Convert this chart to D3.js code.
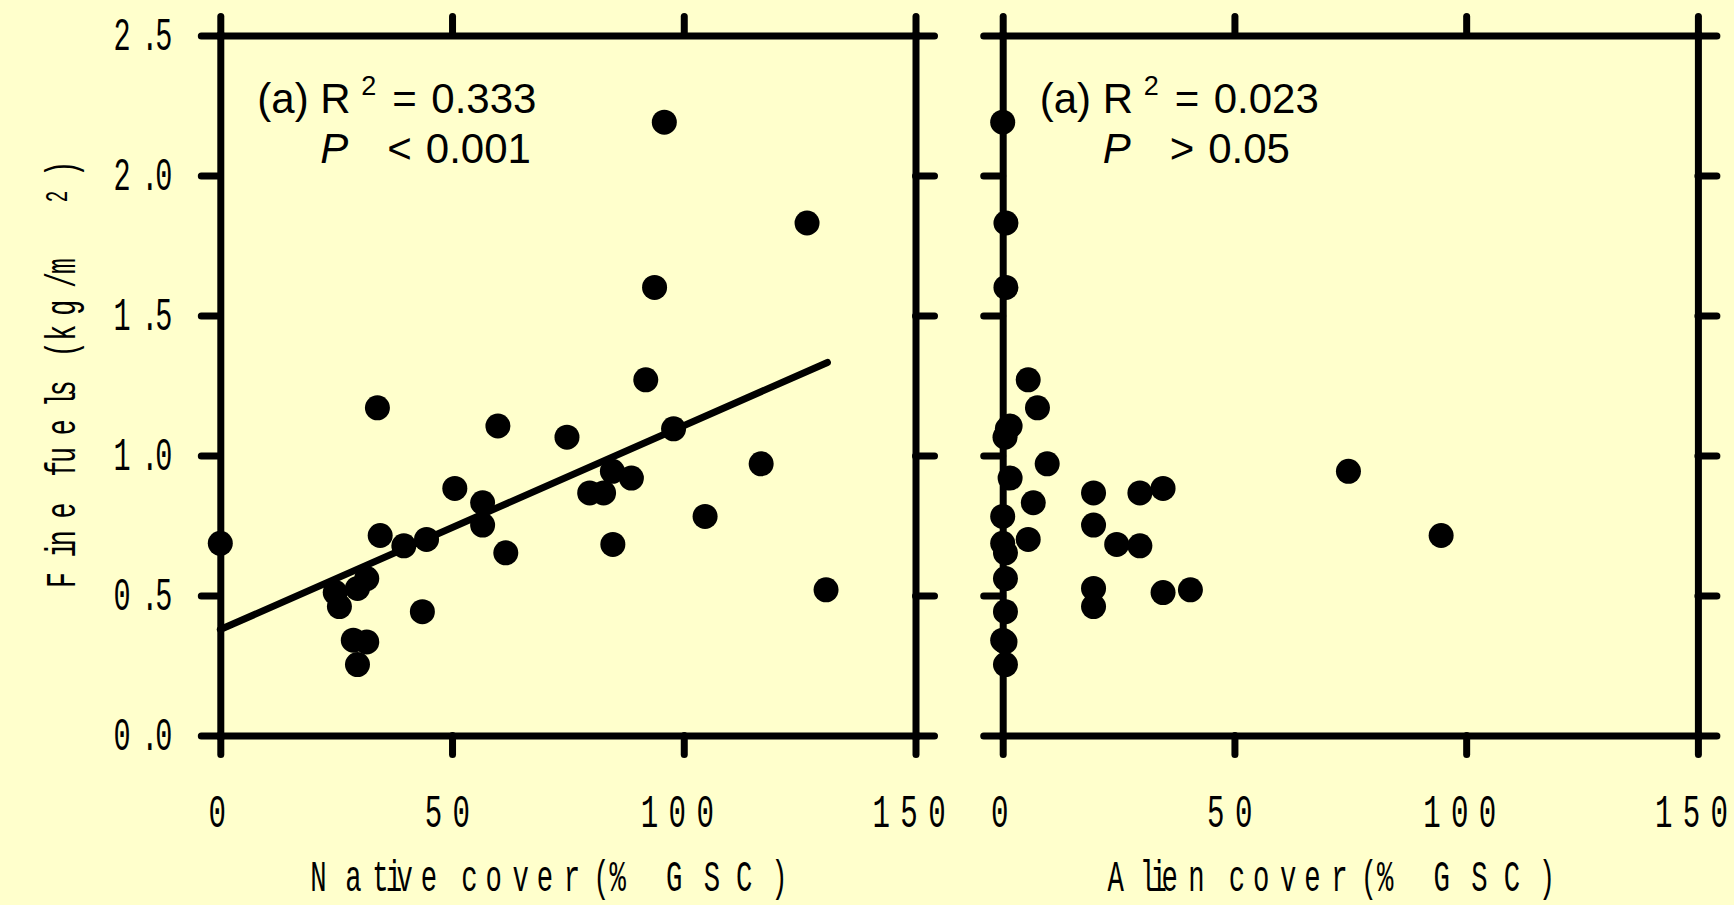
<!DOCTYPE html>
<html><head><meta charset="utf-8">
<script src="https://cdn.jsdelivr.net/npm/d3@7"></script>
<style>html,body{margin:0;padding:0;background:#ffffcc;}svg{display:block}</style>
</head><body>
<svg id="chart" width="1734" height="905"></svg>
<script>
// ---- data ----
const fineFuels   = [2.19, 1.83, 1.60, 1.27, 1.17, 1.105, 1.095, 1.065, 0.97, 0.943, 0.919, 0.882, 0.866, 0.866, 0.831, 0.782, 0.751, 0.714, 0.70, 0.686, 0.682, 0.677, 0.652, 0.56, 0.525, 0.52, 0.51, 0.46, 0.442, 0.34, 0.334, 0.253];
const nativeCover = [95.8, 126.6, 93.7, 91.8, 33.9, 59.9, 97.8, 74.8, 116.7, 84.6, 88.7, 50.6, 79.7, 82.7, 56.6, 104.6, 56.6, 34.5, 44.5, 0, 84.7, 39.6, 61.6, 31.6, 29.6, 130.7, 24.8, 25.7, 43.6, 28.7, 31.6, 29.6];
const alienCover  = [0, 0.7, 0.7, 5.5, 7.5, 1.6, 1.0, 0.5, 9.6, 74.6, 1.6, 34.6, 19.6, 29.6, 6.6, 0, 19.6, 94.6, 5.5, 0, 24.6, 29.6, 0.6, 0.6, 19.6, 40.5, 34.6, 19.6, 0.6, 0, 0.5, 0.6];
const xTickValues = [0, 50, 100, 150];
const yTickValues = [0, 0.5, 1.0, 1.5, 2.0, 2.5];
const xTickLabels = ["0", "50", "100", "150"];
const yTickLabels = ["0.0", "0.5", "1.0", "1.5", "2.0", "2.5"];
const fitX = [0, 131];
const fitY = [0.378, 1.332];
const xTitles = ["Native cover (% GSC)", "Alien cover (% GSC)"];
const yTitle = "Fine fuels (kg/m2)";
const r2Values = ["0.333", "0.023"];
const pSigns = ["<", ">"];
const pValues = ["0.001", "0.05"];

// ---- layout ----
const svg = d3.select("#chart");
const TOP = 35.4, BOTTOM = 735.4, PW = 695.2;
const panelLefts = [220.3, 1002.7];
const y = d3.scaleLinear().domain([0, 2.5]).range([BOTTOM, TOP]);

// advance widths (Helvetica metrics, em units) used to place the narrow glyphs
const HW = {'0':.556,'1':.556,'2':.556,'3':.556,'4':.556,'5':.556,'6':.556,'7':.556,'8':.556,'9':.556,
  '.':.278,' ':.278,'(':.333,')':.333,'%':.889,'/':.278,'A':.667,'C':.722,'F':.611,'G':.778,'N':.722,'S':.667,
  a:.556,c:.5,e:.556,f:.278,g:.556,i:.222,k:.5,l:.222,m:.833,n:.556,o:.556,r:.333,s:.5,t:.278,u:.556,v:.5};
const FONT = "Liberation Mono";
function spanOf(str){ let s=0; for(let i=0;i<str.length-1;i++) s+=HW[str[i]]; return s; }
function glyphRun(parent, str, o){
  const sx = o.sx || 0.62;
  const t = parent.append("text")
    .attr("transform", `translate(${o.x},${o.y}) rotate(${o.rotate||0}) scale(${sx},1)`)
    .attr("font-family", FONT).attr("font-size", o.size).attr("text-anchor", "middle")
    .attr("fill", "#000").style("white-space", "pre");
  let cum = 0;
  for (let i = 0; i < str.length; i++) {
    const c = str[i];
    const sp = o.special && o.special(i, c);
    if (sp && sp.extra) cum += sp.extra;
    const ts = t.append("tspan").attr("x", cum * o.em / sx).attr("y", sp && sp.dy ? sp.dy : 0).text(c);
    if (sp && sp.size) ts.attr("font-size", sp.size);
    cum += HW[c];
  }
  return t;
}

panelLefts.forEach((left, p) => {
  const x = d3.scaleLinear().domain([0, 150]).range([left, left + PW]);
  const xs = p === 0 ? nativeCover : alienCover;
  const g = svg.append("g");

  // frame with outward ticks on all four sides
  const axes = [
    [d3.axisBottom(x).tickValues(xTickValues), `translate(0,${BOTTOM})`],
    [d3.axisTop(x).tickValues(xTickValues), `translate(0,${TOP})`],
    [d3.axisLeft(y).tickValues(yTickValues), `translate(${left},0)`],
    [d3.axisRight(y).tickValues(yTickValues), `translate(${left + PW},0)`]
  ];
  axes.forEach(([ax, tr]) => {
    const a = g.append("g").attr("transform", tr)
      .call(ax.tickSize(19).tickSizeOuter(0).tickFormat(""));
    a.selectAll("text").remove();
    a.select(".domain").attr("stroke", "#000").attr("stroke-width", 7).attr("stroke-linecap", "square");
    a.selectAll(".tick line").attr("stroke", "#000").attr("stroke-width", 7).attr("stroke-linecap", "round");
  });

  // regression line (left panel only)
  if (p === 0) {
    g.append("path")
      .attr("d", d3.line().x(d => x(d[0])).y(d => y(d[1]))(d3.zip(fitX, fitY)))
      .attr("stroke", "#000").attr("stroke-width", 7).attr("stroke-linecap", "round").attr("fill", "none");
  }

  // points
  g.selectAll("circle.pt").data(d3.zip(xs, fineFuels)).join("circle")
    .attr("class", "pt").attr("cx", d => x(d[0])).attr("cy", d => y(d[1])).attr("r", 12.5).attr("fill", "#000");

  // x tick labels
  xTickValues.forEach((v, i) => {
    const lab = xTickLabels[i];
    const n = lab.length;
    const span = spanOf(lab) * 50;
    glyphRun(g, lab, {x: x(v) - 3 - (n - 1) * 1.7 - span / 2, y: 826.7, em: 50, size: 47});
  });

  // x title
  const tt = xTitles[p];
  const tspan = spanOf(tt) * 48.5;
  glyphRun(g, tt, {x: left + PW / 2 - 19 - tspan / 2, y: 891, em: 48.5, size: 44});

  // annotation
  const ax0 = left + 37;
  const ann = g.append("g").attr("font-family", "Liberation Sans").attr("font-size", 42).attr("fill", "#000");
  const t1 = ann.append("text").attr("y", 113).style("white-space", "pre");
  t1.append("tspan").attr("x", ax0).text("(a) R");
  t1.append("tspan").attr("x", ax0 + 104).attr("y", 95).attr("font-size", 27).text("2");
  t1.append("tspan").attr("x", ax0 + 135).attr("y", 113).text("= ");
  t1.append("tspan").attr("x", ax0 + 174).text(r2Values[p]);
  const t2 = ann.append("text").attr("y", 163).style("white-space", "pre");
  t2.append("tspan").attr("x", ax0 + 63).attr("font-style", "italic").text("P ");
  t2.append("tspan").attr("x", ax0 + 130).text(pSigns[p] + " ");
  t2.append("tspan").attr("x", ax0 + 168.5).text(pValues[p]);
});

// y tick labels (left panel)
yTickValues.forEach((v, i) => {
  glyphRun(svg, yTickLabels[i], {x: 122, y: y(v) + 15, em: 50, size: 46});
});

// y title (rotated)
glyphRun(svg, yTitle, {x: 75, y: 580, rotate: -90, em: 50, size: 43,
  special: (i, c) => (i === 16 ? {extra: 0.556, size: 31, dy: -8} : null)});
</script>
</body></html>
